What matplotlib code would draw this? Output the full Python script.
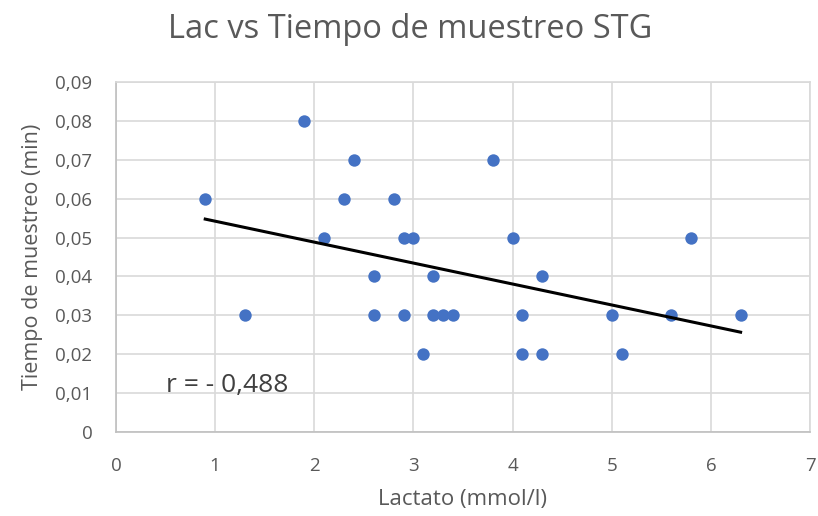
import numpy as np
import matplotlib
matplotlib.use("Agg")
import matplotlib.pyplot as plt
from matplotlib.ticker import FuncFormatter

lactato = [0.9, 1.3, 1.9, 2.1, 2.3, 2.4, 2.6, 2.6, 2.8, 2.9, 2.9, 3.0, 3.1, 3.2,
           3.2, 3.3, 3.4, 3.8, 4.0, 4.1, 4.1, 4.3, 4.3, 5.0, 5.1, 5.6, 5.8, 6.3]
tiempo = [0.06, 0.03, 0.08, 0.05, 0.06, 0.07, 0.04, 0.03, 0.06, 0.05, 0.03, 0.05, 0.02, 0.04,
          0.03, 0.03, 0.03, 0.07, 0.05, 0.03, 0.02, 0.04, 0.02, 0.03, 0.02, 0.03, 0.05, 0.03]

title = "Lac vs Tiempo de muestreo STG"
xlabel = "Lactato (mmol/l)"
ylabel = "Tiempo de muestreo (min)"
annot = "r = - 0,488"

plt.rcParams['font.family'] = ['Open Sans', 'DejaVu Sans']

fig = plt.figure(figsize=(8.18, 5.16), dpi=100)
ax = fig.add_axes([116/818, 1-432/516, (810-116)/818, (432-82)/516])

x = np.array(lactato)
y = np.array(tiempo)
ax.scatter(x, y, s=80, color='#4472C4', zorder=3, linewidths=0)
m, b = np.polyfit(x, y, 1)
xs = np.array([x.min(), x.max()])
ax.plot(xs, m*xs + b, color='black', lw=2.2, zorder=4)

ax.set_xlim(0, 7)
ax.set_ylim(0, 0.09)
ax.set_xticks(range(0, 8))
ax.set_yticks(np.arange(0, 0.091, 0.01))
ax.yaxis.set_major_formatter(FuncFormatter(lambda v, p: "0" if abs(v) < 1e-9 else f"{v:.2f}".replace('.', ',')))
ax.grid(True, color='#D9D9D9', lw=1.2)
ax.set_axisbelow(True)
for s in ax.spines.values():
    s.set_color('#D9D9D9')
    s.set_linewidth(1.2)
ax.spines['left'].set_color('#BFBFBF')
ax.spines['bottom'].set_color('#BFBFBF')
ax.tick_params(length=0, labelsize=13.5, colors='#595959')
ax.tick_params(axis='y', pad=17)
ax.tick_params(axis='x', pad=18)

ax.set_xlabel(xlabel, fontsize=16, color='#595959', labelpad=10)
ax.set_ylabel(ylabel, fontsize=15.5, color='#595959', labelpad=9)
fig.text(410/818, 1-30/516, title, ha='center', va='center', fontsize=23.5, color='#595959')
ax.text(0.5, 0.012, annot, fontsize=19, color='#404040', va='center', ha='left')

fig.savefig('out.png', dpi=100)
